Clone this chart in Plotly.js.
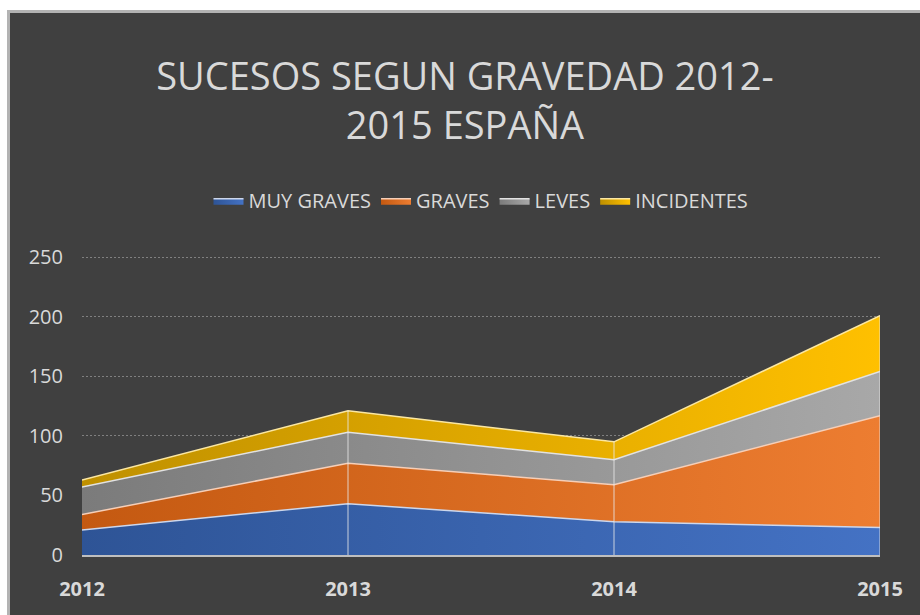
<!DOCTYPE html>
<html>
<head>
<meta charset="utf-8">
<script src="https://cdn.plot.ly/plotly-3.0.1.min.js"></script>
<style>
  html, body { margin: 0; padding: 0; background: #ffffff; width: 920px; height: 615px; overflow: hidden; }
  #wrap { position: absolute; left: 7px; top: 10px; width: 913px; height: 605px; background: #b3b3b3; }
  #chart { position: absolute; left: 3px; top: 3px; width: 910px; height: 602px; }
</style>
</head>
<body>
<div id="wrap"><div id="chart"></div></div>
<script>
// ---- data ----
const years = ['2012', '2013', '2014', '2015'];
const muyGraves = [21, 43, 28, 23];
const graves = [13, 34, 31, 94];
const leves = [23, 26, 21, 37];
const incidentes = [6, 18, 15, 47];
const seriesNames = ['MUY GRAVES', 'GRAVES', 'LEVES', 'INCIDENTES'];
const yTicks = [0, 50, 100, 150, 200, 250];

// ---- styles ----
const seriesData = [muyGraves, graves, leves, incidentes];
const gradients = [
  ['#2E5496', '#4472C4'],
  ['#C45911', '#ED7D31'],
  ['#7B7B7B', '#A8A8A8'],
  ['#BF9000', '#FFC000']
];
const edgeColors = ['#cdd7ec', '#f6cfb8', '#e2e2e2', '#fbe7a2'];

const traces = seriesData.map((vals, i) => ({
  type: 'scatter',
  mode: 'lines',
  x: years,
  y: vals,
  name: seriesNames[i],
  stackgroup: 'one',
  line: { color: edgeColors[i], width: 1.5 },
  fillcolor: gradients[i][1],
  fillgradient: {
    type: 'horizontal',
    colorscale: [[0, gradients[i][0]], [1, gradients[i][1]]]
  },
  hoverinfo: 'x+y+name'
}));

// drop lines at each category (except first), up to the stack total
const totals = years.map((_, j) => seriesData.reduce((s, arr) => s + arr[j], 0));
const shapes = years.map((yr, j) => ({
  type: 'line', xref: 'x', yref: 'y', layer: 'above',
  x0: j, x1: j, y0: 0, y1: totals[j],
  line: { color: 'rgba(235,235,235,0.55)', width: 1.5 }
})).slice(1);

const layout = {
  width: 910,
  height: 602,
  paper_bgcolor: '#404040',
  plot_bgcolor: '#404040',
  margin: { l: 72, r: 40, t: 243, b: 60 },
  font: { family: 'Open Sans, sans-serif', color: '#d9d9d9' },
  title: {
    text: 'SUCESOS SEGUN GRAVEDAD 2012-<br>2015 ESPAÑA',
    font: { family: 'Open Sans, sans-serif', size: 38, color: '#d9d9d9' },
    x: 0.5, xanchor: 'center',
    y: 0.872, yanchor: 'middle', yref: 'container'
  },
  showlegend: true,
  legend: {
    orientation: 'h',
    x: 0.5, xanchor: 'center',
    y: 1.185, yanchor: 'middle',
    font: { size: 20, color: '#d9d9d9' },
    traceorder: 'normal',
    itemwidth: 30,
    bgcolor: 'rgba(0,0,0,0)'
  },
  xaxis: {
    type: 'category',
    range: [0, 3],
    showgrid: false,
    zeroline: false,
    showline: true,
    linecolor: '#bfbfbf',
    linewidth: 1.5,
    ticks: '',
    ticklabelstandoff: 15,
    tickfont: { size: 20, color: '#d9d9d9', weight: 'bold' },
    fixedrange: true
  },
  yaxis: {
    range: [0, 251],
    tickvals: yTicks,
    ticktext: yTicks.map(String),
    showgrid: true,
    gridcolor: '#808080',
    griddash: '1.5px,2.5px',
    gridwidth: 1,
    zeroline: false,
    showline: false,
    ticks: '',
    ticklabelstandoff: 18,
    tickfont: { size: 20, color: '#d9d9d9' },
    fixedrange: true
  },
  shapes: shapes
};

Plotly.newPlot('chart', traces, layout, { displayModeBar: false, staticPlot: true });
</script>
</body>
</html>
